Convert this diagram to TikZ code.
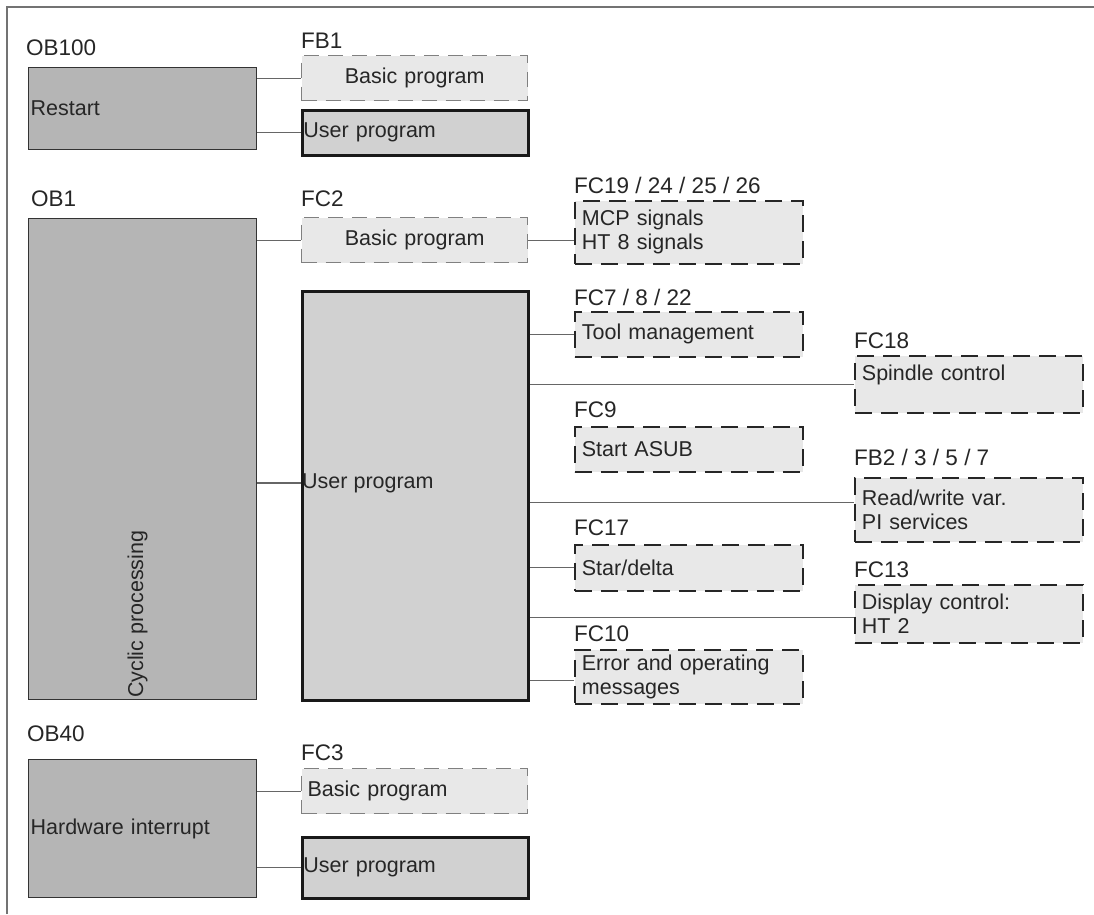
\documentclass[tikz,border=0pt]{standalone}
\usepackage{fontspec}
\setmainfont{Liberation Sans}
\definecolor{obfill}{gray}{0.71}
\definecolor{userfill}{gray}{0.82}
\definecolor{fcfill}{gray}{0.91}
\tikzstyle{box} = [anchor=north west, inner ysep=0pt, align=left, text=black!85, font={\fontsize{21.5}{24}\selectfont}]
\tikzstyle{ob} = [box, draw=black!80, line width=1.3pt, fill=obfill, minimum width=228pt, text width=224pt, inner xsep=2pt]
\tikzstyle{user} = [box, draw=black!90, line width=2.6pt, fill=userfill, minimum width=226pt, text width=224pt, inner xsep=1pt]
\tikzstyle{basic} = [box, draw=black!50, line width=1.3pt, dash pattern=on 15pt off 9pt, fill=fcfill, minimum width=226pt, minimum height=45pt, text width=214pt, inner xsep=6pt]
\tikzstyle{fc} = [box, draw=black!85, line width=1.8pt, dash pattern=on 17pt off 9pt, fill=fcfill, minimum width=228pt, text width=214pt, inner xsep=7pt]
\tikzstyle{blk} = [anchor=base west, inner sep=0pt, text=black!85, font={\fontsize{22.5}{24}\selectfont}]
\tikzstyle{txt} = [inner sep=0pt, text=black!85, font={\fontsize{21.5}{24}\selectfont}]
\tikzstyle{link} = [draw=black!60, line width=1.1pt]

\begin{document}
\begin{tikzpicture}[x=1pt, y=-1pt]
    \useasboundingbox (0,0) rectangle (1094,914);
    \draw[black!55, line width=1.4pt] (7,914) -- (7,7) -- (1094,7);

    \node[blk](ob100-l) at (26,55){OB100};
    \node[ob, minimum height=82pt](ob100) at (28,67){Restart};
    \node[blk](fb1-l) at (301,48){FB1};
    \node[basic, align=center](fb1) at (301,55){Basic program};
    \node[user, minimum height=45pt](user1) at (301,109){User program};
    \draw[link](fb1.west) -- (fb1.west -| ob100.east);
    \draw[link](user1.west) -- (user1.west -| ob100.east);

    \node[blk](ob1-l) at (31,206){OB1};
    \node[ob, minimum height=481pt](ob1) at (28,218){};
    \node[txt, rotate=90, anchor=base west](cyc) at (143,698){Cyclic processing};
    \node[blk](fc2-l) at (301,206){FC2};
    \node[basic, align=center](fc2) at (301,217){Basic program};
    \node[user, minimum height=409pt](user2) at (301,290){};
    \node[txt, anchor=west](user2-t) at (302,483){User program};
    \draw[link](fc2.west) -- (fc2.west -| ob1.east);
    \draw[link](ob1.east |- user2-t.west) -- (user2.west |- user2-t.west);

    \node[blk](fc19-l) at (574,193){FC19 / 24 / 25 / 26};
    \node[fc, minimum height=63pt](fc19) at (574,200){MCP signals\\HT 8 signals};
    \draw[link](fc2.east) -- (fc2.east -| fc19.west);

    \node[blk](fc7-l) at (574,305){FC7 / 8 / 22};
    \node[fc, minimum height=45pt](fc7) at (574,311){Tool management};
    \node[blk](fc9-l) at (574,417){FC9};
    \node[fc, minimum height=45pt](fc9) at (574,426){Start ASUB};
    \node[blk](fc17-l) at (574,535){FC17};
    \node[fc, minimum height=46pt](fc17) at (574,544){Star/delta};
    \node[blk](fc10-l) at (574,641){FC10};
    \node[fc, minimum height=54pt](fc10) at (574,649){Error and operating\\messages};

    \node[blk](fc18-l) at (854,348){FC18};
    \node[fc, minimum height=57pt, minimum width=227pt](fc18) at (854,355){Spindle control\\\mbox{}};
    \node[blk](fb2-l) at (854,465){FB2 / 3 / 5 / 7};
    \node[fc, minimum height=64pt, minimum width=227pt](fb2) at (854,477){Read/write var.\\PI services};
    \node[blk](fc13-l) at (854,577){FC13};
    \node[fc, minimum height=58pt, minimum width=227pt](fc13) at (854,584){Display control:\\HT 2};

    \coordinate(fb2-in) at ([yshift=7pt]fb2.west);
    \coordinate(fc13-in) at ([yshift=-4pt]fc13.west);
    \coordinate(fc10-in) at ([yshift=-4pt]fc10.west);
    \draw[link](fc7.west) -- (fc7.west -| user2.east);
    \draw[link](fc18.west) -- (fc18.west -| user2.east);
    \draw[link](fb2-in) -- (fb2-in -| user2.east);
    \draw[link](fc17.west) -- (fc17.west -| user2.east);
    \draw[link](fc13-in) -- (fc13-in -| user2.east);
    \draw[link](fc10-in) -- (fc10-in -| user2.east);

    \node[blk](ob40-l) at (27,741){OB40};
    \node[ob, minimum height=138pt](ob40) at (28,759){Hardware interrupt};
    \node[blk](fc3-l) at (301,760){FC3};
    \node[basic](fc3) at (301,768){Basic program};
    \node[user, minimum height=61pt](user3) at (301,836){User program};
    \draw[link](fc3.west) -- (fc3.west -| ob40.east);
    \draw[link](user3.west) -- (user3.west -| ob40.east);
  \end{tikzpicture}
\end{document}
